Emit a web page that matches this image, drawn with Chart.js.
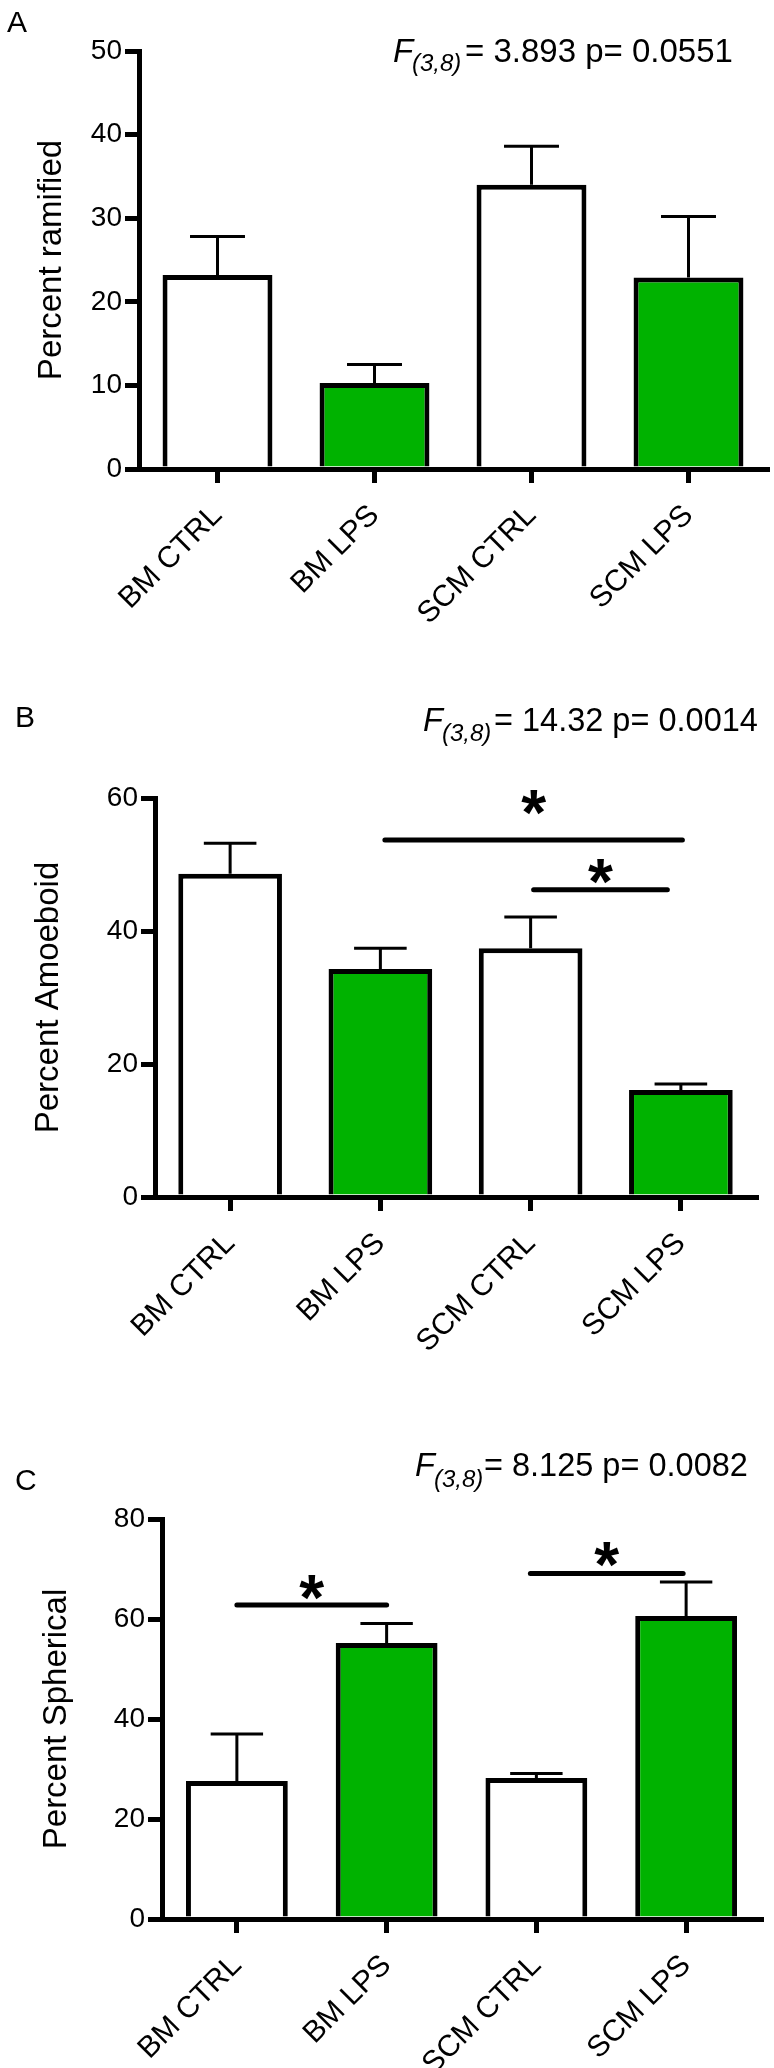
<!DOCTYPE html>
<html><head><meta charset="utf-8">
<script src="https://cdn.jsdelivr.net/npm/chart.js@4.4.1/dist/chart.umd.min.js"></script>
<style>
html,body{margin:0;padding:0;background:#fff;}
body{width:774px;height:2068px;position:relative;overflow:hidden;font-family:"Liberation Sans",Arial,sans-serif;color:#000;}
canvas{position:absolute;left:0;}
.t{position:absolute;white-space:nowrap;line-height:1;font-family:"Liberation Sans",Arial,sans-serif;color:#000;}
</style></head><body>
<canvas id="cA" width="774" height="700" style="top:0px;width:774px;height:700px"></canvas>
<canvas id="cB" width="774" height="720" style="top:700px;width:774px;height:720px"></canvas>
<canvas id="cC" width="774" height="728" style="top:1340px;width:774px;height:728px"></canvas>
<script>
// ---- data ----
const categories = ['BM CTRL', 'BM LPS', 'SCM CTRL', 'SCM LPS'];
const barFill = ['#ffffff', '#00b200', '#ffffff', '#00b200'];

const ramifiedMean = [23.2, 10.3, 34.0, 22.9];
const ramifiedErr  = [4.6, 2.2, 4.6, 7.3];

const amoeboidMean = [48.6, 34.3, 37.4, 16.1];
const amoeboidErr  = [4.6, 3.1, 4.7, 0.9];

const sphericalMean = [27.6, 55.2, 28.2, 60.6];
const sphericalErr  = [9.4, 3.9, 0.9, 6.8];

// significance bars: from/to category index, bar height, star height (data units)
const ramifiedSig = [];
const amoeboidSig = [
  {from: 1.03, to: 3.01, y: 53.7, star: 60.0},
  {from: 2.02, to: 2.91, y: 46.2, star: 49.6}
];
const sphericalSig = [
  {from: 0.0, to: 1.0, y: 62.8, star: 67.3},
  {from: 1.96, to: 2.98, y: 69.1, star: 73.8}
];

const yMaxes = [50, 60, 80];
const ySteps = [10, 20, 20];
const yTitles = ['Percent ramified', 'Percent Amoeboid', 'Percent Spherical'];
const panelLetters = ['A', 'B', 'C'];
const fValues = ['3.893', '14.32', '8.125'];
const pValues = ['0.0551', '0.0014', '0.0082'];

// ---- layout ----
const panels = [
  {id:'cA', top:0,    height:700, chartTop:51,  chartBottom:469, left:139, right:767, barPct:0.70, titleX:51.5,
   means:ramifiedMean, errs:ramifiedErr, sig:ramifiedSig},
  {id:'cB', top:700,  height:720, chartTop:98,  chartBottom:497, left:155, right:756, barPct:0.69, titleX:49,
   means:amoeboidMean, errs:amoeboidErr, sig:amoeboidSig},
  {id:'cC', top:1340, height:728, chartTop:179, chartBottom:579, left:162, right:761, barPct:0.68, titleX:56.5,
   means:sphericalMean, errs:sphericalErr, sig:sphericalSig}
];

Chart.defaults.font.family = '"Liberation Sans", Arial, sans-serif';
Chart.defaults.color = '#000';

const overlayPlugin = {
  id: 'overlay',
  afterDatasetsDraw(chart, args, opts) {
    const ctx = chart.ctx;
    const xs = chart.scales.x, ys = chart.scales.y;
    const catW = xs.getPixelForValue(1) - xs.getPixelForValue(0);
    const ds = chart.data.datasets[0];
    ctx.save();
    ctx.strokeStyle = '#000';
    ctx.lineWidth = 3;
    ctx.lineCap = 'butt';
    ds.data.forEach((v, i) => {
      const x = xs.getPixelForValue(i);
      const y0 = ys.getPixelForValue(v);
      const y1 = ys.getPixelForValue(v + opts.errs[i]);
      const half = catW * 0.175;
      ctx.beginPath();
      ctx.moveTo(x, y0); ctx.lineTo(x, y1);
      ctx.moveTo(x - half, y1); ctx.lineTo(x + half, y1);
      ctx.stroke();
    });
    ctx.lineWidth = 5;
    ctx.lineCap = 'round';
    ctx.fillStyle = '#000';
    ctx.font = 'bold 64px "Liberation Sans", Arial, sans-serif';
    ctx.textAlign = 'center';
    ctx.textBaseline = 'alphabetic';
    opts.sig.forEach(s => {
      const xa = xs.getPixelForValue(s.from), xb = xs.getPixelForValue(s.to);
      const y = ys.getPixelForValue(s.y);
      ctx.beginPath(); ctx.moveTo(xa, y); ctx.lineTo(xb, y); ctx.stroke();
      const ys2 = ys.getPixelForValue(s.star);
      ctx.fillText('*', (xa + xb) / 2, ys2 + 0.58 * 64);
    });
    ctx.restore();
  }
};

panels.forEach((p, k) => {
  const ctx = document.getElementById(p.id).getContext('2d');
  new Chart(ctx, {
    type: 'bar',
    data: {
      labels: categories,
      datasets: [{
        data: p.means,
        backgroundColor: barFill,
        borderColor: '#000',
        borderWidth: 5,
        barPercentage: p.barPct,
        categoryPercentage: 1
      }]
    },
    options: {
      responsive: false,
      animation: false,
      devicePixelRatio: 1,
      layout: {padding: {top: p.chartTop, right: 774 - p.right, bottom: 0, left: 0}},
      plugins: {
        legend: {display: false},
        tooltip: {enabled: false},
        overlay: {errs: p.errs, sig: p.sig}
      },
      scales: {
        x: {
          z: 1,
          offset: true,
          grid: {display: true, drawOnChartArea: false, drawTicks: true, tickLength: 14, tickWidth: 5, lineWidth: 5, color: '#000', offset: false},
          border: {display: true, width: 5, color: '#000'},
          ticks: {color: '#000', font: {size: 30}, minRotation: 45, maxRotation: 45, autoSkip: false, padding: 15},
          afterFit: (s) => { s.height = p.height - p.chartBottom; }
        },
        y: {
          min: 0, max: yMaxes[k],
          ticks: {stepSize: ySteps[k], color: '#000', font: {size: 28}, padding: 3},
          grid: {display: true, drawOnChartArea: false, drawTicks: true, tickLength: 14, tickWidth: 5, lineWidth: 5, color: '#000'},
          border: {display: true, width: 5, color: '#000'},
          title: {display: true, text: yTitles[k], color: '#000', font: {size: 33, lineHeight: 1.2}, padding: {top: p.titleX - 19.8, bottom: 0}},
          afterFit: (s) => { s.width = p.left; }
        }
      }
    },
    plugins: [overlayPlugin]
  });
});

// ---- text annotations (HTML) ----
function addText(txt, left, baseline, size, italic) {
  const d = document.createElement('div');
  d.className = 't';
  d.style.fontSize = size + 'px';
  d.style.left = left + 'px';
  d.style.top = (baseline - 0.8465 * size) + 'px';
  if (italic) d.style.fontStyle = 'italic';
  d.textContent = txt;
  document.body.appendChild(d);
}
const letterPos = [[7, 32], [15, 727], [15, 1490]];
const statPos = [
  {f: 393, sub: 412, main: 465, base: 62, subBase: 71, size: 33},
  {f: 423, sub: 442, main: 494, base: 732, subBase: 741, size: 32.5},
  {f: 415, sub: 434, main: 484, base: 1477, subBase: 1487, size: 32.5}
];
panelLetters.forEach((L, k) => {
  addText(L, letterPos[k][0], letterPos[k][1], 30, false);
  const s = statPos[k];
  addText('F', s.f, s.base, s.size, true);
  addText('(3,8)', s.sub, s.subBase, 24, true);
  addText('= ' + fValues[k] + ' p= ' + pValues[k], s.main, s.base, s.size, false);
});
</script>
</body></html>
